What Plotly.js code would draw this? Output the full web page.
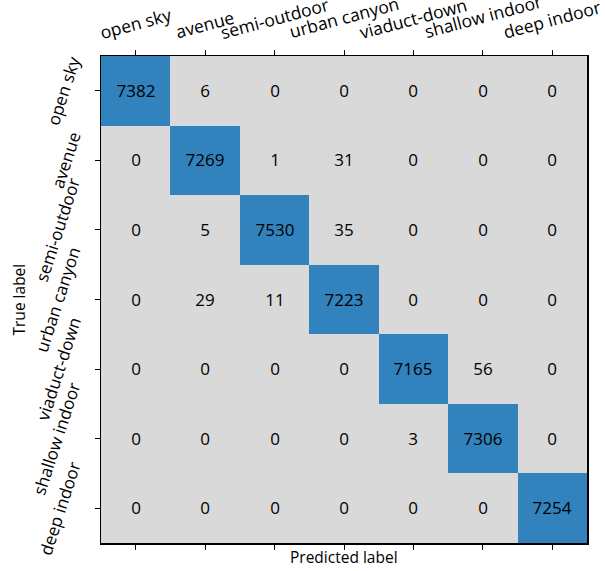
<!DOCTYPE html>
<html>
<head>
<meta charset="utf-8">
<script src="https://cdn.plot.ly/plotly-3.0.1.min.js"></script>
<style>html,body{margin:0;padding:0;background:#fff;}</style>
</head>
<body>
<div id="chart" style="width:605px;height:571px;"></div>
<script>
const labels = ["open sky","avenue","semi-outdoor","urban canyon","viaduct-down","shallow indoor","deep indoor"];
const row0 = [7382, 6, 0, 0, 0, 0, 0];
const row1 = [0, 7269, 1, 31, 0, 0, 0];
const row2 = [0, 5, 7530, 35, 0, 0, 0];
const row3 = [0, 29, 11, 7223, 0, 0, 0];
const row4 = [0, 0, 0, 0, 7165, 56, 0];
const row5 = [0, 0, 0, 0, 3, 7306, 0];
const row6 = [0, 0, 0, 0, 0, 0, 7254];
const z = [row0,row1,row2,row3,row4,row5,row6];

const font = "Open Sans, DejaVu Sans, sans-serif";
const trace = {
  type: "heatmap",
  z: z,
  x: labels,
  y: labels,
  zmin: 0,
  zmax: 7530,
  colorscale: [[0,"#d9d9d9"],[0.5,"#d9d9d9"],[0.5001,"#3182bd"],[1,"#3182bd"]],
  showscale: false,
  texttemplate: "%{z}",
  textfont: {family: font, size: 17, color: "#000"},
  hoverinfo: "skip"
};

const annotations = [];
labels.forEach(function (lab) {
  annotations.push({
    text: lab, xref: "x", yref: "paper", x: lab, y: 1,
    xanchor: "center", yanchor: "bottom", yshift: 10, textangle: -15,
    showarrow: false, font: {size: 17.5, family: font, color: "#000"}
  });
  annotations.push({
    text: lab, xref: "paper", yref: "y", x: 0, y: lab,
    xanchor: "right", yanchor: "middle", xshift: -13, textangle: -72,
    showarrow: false, font: {size: 17, family: font, color: "#000"}
  });
});
annotations.push({
  text: "Predicted label", xref: "paper", yref: "paper", x: 0.5, y: 0,
  yshift: -1, yanchor: "top", showarrow: false, font: {size: 15.5, family: font, color: "#000"}
});
annotations.push({
  text: "True label", xref: "paper", yref: "paper", x: 0, y: 0.5,
  xshift: -83, xanchor: "center", yanchor: "middle", textangle: -90,
  showarrow: false, font: {size: 15.5, family: font, color: "#000"}
});

const layout = {
  width: 605, height: 571,
  margin: {l: 101, r: 18, t: 56, b: 28},
  paper_bgcolor: "#fff",
  plot_bgcolor: "#d9d9d9",
  font: {family: font, color: "#000"},
  xaxis: {
    side: "top",
    type: "category",
    range: [-0.5, 6.5],
    showticklabels: false,
    ticks: "outside", ticklen: 5, tickcolor: "#000", tickwidth: 1,
    showline: true, linecolor: "#000", linewidth: 1.5, mirror: "ticks",
    showgrid: false, zeroline: false
  },
  yaxis: {
    type: "category",
    range: [6.5, -0.5],
    showticklabels: false,
    ticks: "outside", ticklen: 5, tickcolor: "#000", tickwidth: 1,
    showline: true, linecolor: "#000", linewidth: 1.5, mirror: true,
    showgrid: false, zeroline: false
  },
  annotations: annotations
};
Plotly.newPlot("chart", [trace], layout, {displayModeBar: false, staticPlot: true});
</script>
</body>
</html>
